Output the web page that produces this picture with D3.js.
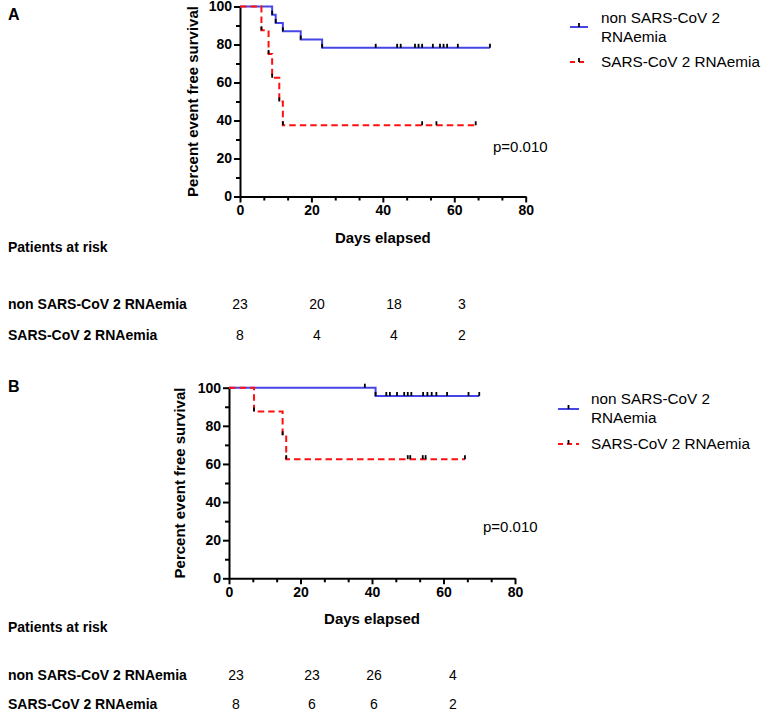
<!DOCTYPE html>
<html><head><meta charset="utf-8">
<script src="https://cdn.jsdelivr.net/npm/d3@7"></script>
<style>body{margin:0;background:#fff} text{font-family:Arial,"Liberation Sans",sans-serif;fill:#000}</style>
</head><body><svg id="c" width="761" height="718" style="background:#fff"></svg>
<script>
// ---------- data ----------
const seriesNames = ["non SARS-CoV 2 RNAemia", "SARS-CoV 2 RNAemia"];
const legendLines = [["non SARS-CoV 2", "RNAemia"], ["SARS-CoV 2 RNAemia"]];
const xTicks = [0, 20, 40, 60, 80];
const yTicks = [0, 20, 40, 60, 80, 100];
const riskDays = [0, 20, 40, 60];
const xTitle = "Days elapsed";
const yTitle = "Percent event free survival";
const riskTitle = "Patients at risk";
const pText = "p=0.010";

// Panel A
const aNonEventDays = [9, 10, 12, 17, 23];
const aNonSurvival = [95.65, 91.30, 86.96, 82.61, 78.26];
const aNonCensorDays = [38, 44, 45, 49, 50, 51, 54, 56, 57, 58, 61, 70];
const aNonEnd = 70;
const aRnaEventDays = [6, 8, 9, 11, 12];
const aRnaSurvival = [87.5, 75, 62.5, 50, 37.5];
const aRnaCensorDays = [51, 55, 66];
const aRnaEnd = 66;
const aRiskNon = [23, 20, 18, 3];
const aRiskRna = [8, 4, 4, 2];

// Panel B
const bNonEventDays = [41];
const bNonSurvival = [95.65];
const bNonCensorDays = [38, 44, 45, 47, 49, 50, 51, 54.3, 55.5, 56.7, 58, 61, 67, 70];
const bNonEnd = 70;
const bRnaEventDays = [7, 15, 16];
const bRnaSurvival = [87.5, 75, 62.5];
const bRnaCensorDays = [50, 50.7, 54.2, 55, 66];
const bRnaEnd = 66;
const bRiskNon = [23, 23, 26, 4];
const bRiskRna = [8, 6, 6, 2];

// ---------- styles ----------
const BLUE = "#4646e6", RED = "#ff1010";
const svg = d3.select("#c");

function survivalAt(evDays, surv, t) {
  let s = 100;
  evDays.forEach((d, i) => { if (d <= t) s = surv[i]; });
  return s;
}

function drawPanel(cfg) {
  const g = svg.append("g");
  const x = d3.scaleLinear().domain([0, 80]).range(cfg.xRange);
  const y = d3.scaleLinear().domain([0, 100]).range(cfg.yRange);

  // panel letter
  g.append("text").attr("x", 8).attr("y", cfg.letterY).attr("font-weight", "bold")
    .attr("font-size", 16).text(cfg.letter);

  // minor ticks
  const xMinor = d3.range(0, 80.01, 20 / 3).filter(v => Math.abs(v / 20 - Math.round(v / 20)) > 0.01);
  const yMinor = d3.range(10, 100, 20);
  const xAxisMinor = d3.axisBottom(x).tickValues(xMinor).tickSize(4).tickFormat("");
  const yAxisMinor = d3.axisLeft(y).tickValues(yMinor).tickSize(4).tickFormat("");
  const xg0 = g.append("g").attr("transform", `translate(0,${cfg.yRange[0]})`).call(xAxisMinor);
  const yg0 = g.append("g").attr("transform", `translate(${cfg.xRange[0]},0)`).call(yAxisMinor);
  [xg0, yg0].forEach(a => { a.select(".domain").remove(); a.selectAll("line").attr("stroke", "#000").attr("stroke-width", 2); });

  const xAxis = d3.axisBottom(x).tickValues(xTicks).tickSize(6).tickPadding(3).tickSizeOuter(0);
  const yAxis = d3.axisLeft(y).tickValues(yTicks).tickSize(6).tickPadding(2).tickSizeOuter(0);
  const xg = g.append("g").attr("transform", `translate(0,${cfg.yRange[0]})`).call(xAxis);
  const yg = g.append("g").attr("transform", `translate(${cfg.xRange[0]},0)`).call(yAxis);
  [xg, yg].forEach(a => {
    a.select(".domain").attr("stroke", "#000").attr("stroke-width", 2);
    a.selectAll("line").attr("stroke", "#000").attr("stroke-width", 2);
    a.selectAll("text").attr("font-size", 14).attr("font-weight", "bold").attr("fill", "#000")
      .attr("font-family", "Arial, 'Liberation Sans', sans-serif");
  });

  // titles
  g.append("text").attr("x", (cfg.xRange[0] + cfg.xRange[1]) / 2).attr("y", cfg.xTitleY)
    .attr("text-anchor", "middle").attr("dy", "0.35em").attr("font-weight", "bold").attr("font-size", 15).text(xTitle);
  g.append("text").attr("transform", `translate(${cfg.yTitleX},${(cfg.yRange[0] + cfg.yRange[1]) / 2}) rotate(-90)`)
    .attr("text-anchor", "middle").attr("dy", "0.35em").attr("font-weight", "bold").attr("font-size", 15).text(yTitle);

  // curves
  const line = d3.line().x(d => x(d[0])).y(d => y(d[1])).curve(d3.curveStepAfter);
  cfg.series.forEach(s => {
    const pts = [[0, 100]].concat(s.ev.map((d, i) => [d, s.surv[i]]));
    pts.push([s.end, s.surv[s.surv.length - 1]]);
    s.pts = pts;
  });
  cfg.series.forEach(s => {
    g.append("path").attr("d", line(s.pts)).attr("fill", "none").attr("stroke", s.color)
      .attr("stroke-width", 2).attr("stroke-dasharray", s.dash || null);
  });
  // symbols: event points and censored points (black ticks)
  cfg.series.forEach(s => {
    const marks = s.ev.map((d, i) => [d, s.surv[i]])
      .concat(s.cens.map(d => [d, survivalAt(s.ev, s.surv, d)]));
    g.selectAll(null).data(marks).enter().append("line")
      .attr("x1", d => x(d[0])).attr("x2", d => x(d[0]))
      .attr("y1", d => y(d[1])).attr("y2", d => y(d[1]) - 4)
      .attr("stroke", "#000").attr("stroke-width", 1.8);
  });

  // p value
  g.append("text").attr("x", cfg.pX).attr("y", cfg.pY).attr("dy", "0.35em").attr("font-size", 15).text(pText);

  // legend
  cfg.series.forEach((s, i) => {
    const L = cfg.legend[i];
    g.append("line").attr("x1", L.x1).attr("x2", L.x2).attr("y1", L.y).attr("y2", L.y)
      .attr("stroke", s.color).attr("stroke-width", 2).attr("stroke-dasharray", s.dash ? "5,4" : null);
    g.append("line").attr("x1", (L.x1 + L.x2) / 2).attr("x2", (L.x1 + L.x2) / 2).attr("y1", L.y).attr("y2", L.y - 4)
      .attr("stroke", "#000").attr("stroke-width", 1.8);
    legendLines[i].forEach((t, j) => {
      g.append("text").attr("x", cfg.legendTextX).attr("y", L.textY + j * 19).attr("dy", "0.35em")
        .attr("font-size", 15.3).text(t);
    });
  });

  // risk table
  g.append("text").attr("x", 8).attr("y", cfg.riskTitleY).attr("dy", "0.35em").attr("font-weight", "bold")
    .attr("font-size", 14).text(riskTitle);
  const rx = d3.scaleLinear().domain(riskDays).range(cfg.riskCols);
  cfg.risk.forEach((row, i) => {
    const ry = cfg.riskRowsY[i];
    g.append("text").attr("x", 8).attr("y", ry).attr("dy", "0.35em").attr("font-weight", "bold")
      .attr("font-size", 14).text(seriesNames[i]);
    g.selectAll(null).data(row).enter().append("text")
      .attr("x", (d, k) => rx(riskDays[k])).attr("y", ry).attr("dy", "0.35em")
      .attr("text-anchor", "middle").attr("font-size", 14).text(d => d);
  });
}

drawPanel({
  letter: "A", letterY: 20,
  xRange: [240, 525.7], yRange: [196.5, 6.5],
  xTitleY: 238, yTitleX: 193,
  pX: 493, pY: 147,
  legendTextX: 601,
  legend: [{ x1: 570, x2: 588, y: 27, textY: 17.5 }, { x1: 570, x2: 588, y: 62, textY: 62 }],
  riskTitleY: 247, riskRowsY: [304, 335], riskCols: [240, 317, 394, 462],
  risk: [aRiskNon, aRiskRna],
  series: [
    { ev: aNonEventDays, surv: aNonSurvival, cens: aNonCensorDays, end: aNonEnd, color: BLUE },
    { ev: aRnaEventDays, surv: aRnaSurvival, cens: aRnaCensorDays, end: aRnaEnd, color: RED, dash: "6.5,4" }
  ]
});

drawPanel({
  letter: "B", letterY: 392,
  xRange: [229, 515], yRange: [578.3, 387.7],
  xTitleY: 619, yTitleX: 180,
  pX: 483, pY: 527,
  legendTextX: 591,
  legend: [{ x1: 558, x2: 579, y: 409, textY: 399 }, { x1: 558, x2: 579, y: 444, textY: 444 }],
  riskTitleY: 627, riskRowsY: [675, 704], riskCols: [236, 312, 374, 453],
  risk: [bRiskNon, bRiskRna],
  series: [
    { ev: bNonEventDays, surv: bNonSurvival, cens: bNonCensorDays, end: bNonEnd, color: BLUE },
    { ev: bRnaEventDays, surv: bRnaSurvival, cens: bRnaCensorDays, end: bRnaEnd, color: RED, dash: "6.5,4" }
  ]
});
</script></body></html>
